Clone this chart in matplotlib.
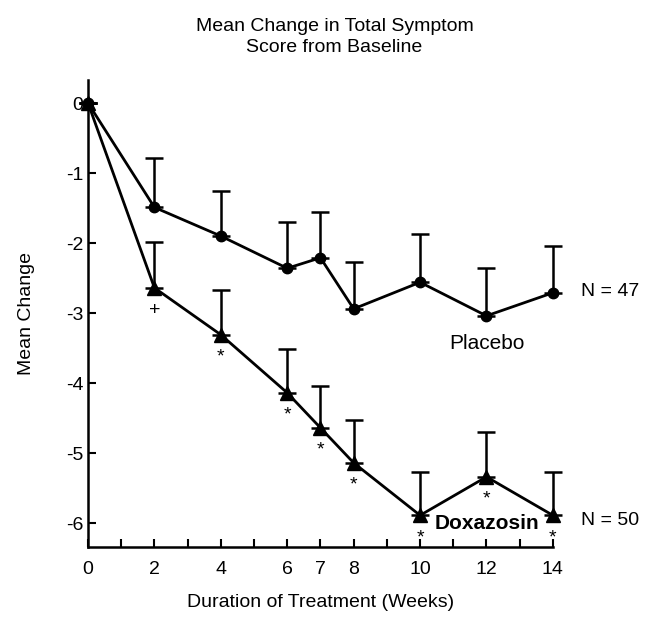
import matplotlib.pyplot as plt

weeks = [0, 2, 4, 6, 7, 8, 10, 12, 14]
placebo = [0, -1.49, -1.90, -2.36, -2.21, -2.94, -2.56, -3.04, -2.71]
placebo_se = [0, 0.70, 0.65, 0.66, 0.65, 0.67, 0.69, 0.68, 0.67]
doxazosin = [0, -2.64, -3.31, -4.14, -4.64, -5.14, -5.89, -5.34, -5.89]
doxazosin_se = [0, 0.65, 0.64, 0.63, 0.60, 0.61, 0.62, 0.64, 0.62]
signif = ['', '+', '*', '*', '*', '*', '*', '*', '*']
xtick_labels = ['0', '2', '4', '6', '7', '8', '10', '12', '14']

plt.rcParams['font.family'] = ['Liberation Sans', 'DejaVu Sans']
plt.rcParams['axes.unicode_minus'] = False

fig = plt.figure(figsize=(6.52, 6.2), dpi=100)
ax = fig.add_axes([0.135, 0.118, 0.713, 0.753])

ax.errorbar(weeks, placebo, yerr=[[0] * len(weeks), placebo_se], color='black',
            marker='o', markersize=7.5, linewidth=2, elinewidth=1.8, capsize=6.5,
            capthick=1.8, clip_on=False)
ax.errorbar(weeks, doxazosin, yerr=[[0] * len(weeks), doxazosin_se], color='black',
            marker='^', markersize=9.5, linewidth=2, elinewidth=1.8, capsize=6.5,
            capthick=1.8, clip_on=False)

# significance symbols under the doxazosin points
for w, v, s in zip(weeks, doxazosin, signif):
    if s:
        ax.annotate(s, (w, v), xytext=(0, -10), textcoords='offset points',
                    ha='center', va='top', fontsize=14)

ax.text(12, -3.43, 'Placebo', ha='center', va='center', fontsize=15)
ax.text(12, -6.0, 'Doxazosin', ha='center', va='center', fontsize=15,
        fontweight='bold')
ax.text(1.06, -2.69, 'N = 47', transform=ax.get_yaxis_transform(), ha='left',
        va='center', fontsize=14)
ax.text(1.06, -5.96, 'N = 50', transform=ax.get_yaxis_transform(), ha='left',
        va='center', fontsize=14)

ax.set_xlim(0, 14)
ax.set_ylim(-6.34, 0.33)
ax.set_xticks(range(0, 15), minor=True)
ax.set_xticks(weeks)
ax.set_xticklabels(xtick_labels)
ax.set_yticks(range(-6, 1))
ax.tick_params(direction='in', length=6, width=1.5, labelsize=14)
ax.tick_params(axis='x', pad=10)
ax.tick_params(which='minor', direction='in', length=6, width=1.5)
for side in ['top', 'right']:
    ax.spines[side].set_visible(False)
for side in ['left', 'bottom']:
    ax.spines[side].set_linewidth(1.8)

ax.set_xlabel('Duration of Treatment (Weeks)', fontsize=14, labelpad=12)
ax.set_ylabel('Mean Change', fontsize=14, labelpad=22)
fig.text(0.513, 0.94, 'Mean Change in Total Symptom\nScore from Baseline',
         ha='center', va='center', fontsize=14, linespacing=1.35)

plt.savefig('out.png', dpi=100)
